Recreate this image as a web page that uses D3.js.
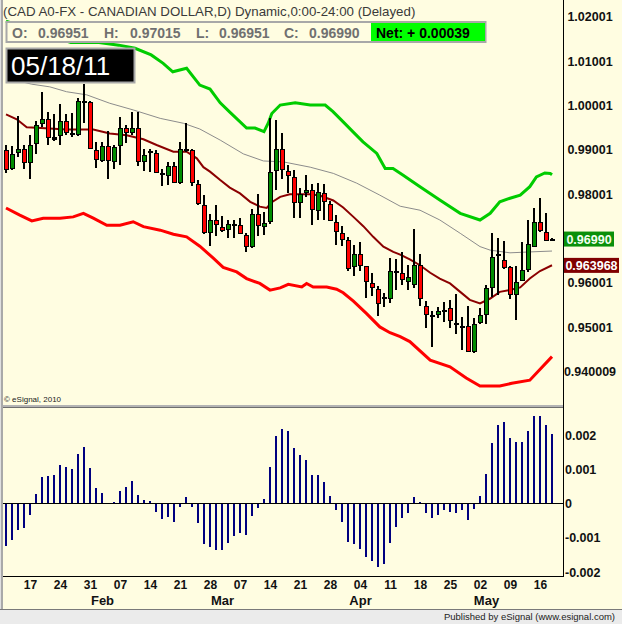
<!DOCTYPE html>
<html>
<head>
<meta charset="utf-8">
<script src="https://cdn.jsdelivr.net/npm/d3@7"></script>
<style>
  body { margin: 0; background: #fffde1; }
  svg { display: block; font-family: Arial, "Liberation Sans", sans-serif; }
</style>
</head>
<body>
<div id="chart"></div>
<script>
// daily bars, 11 Jan 2011 .. 18 May 2011 (weekdays)
var opens = [0.9900,0.9856,0.9892,0.9901,0.9870,0.9912,0.9958,0.9969,0.9930,0.9933,
  0.9966,0.9937,0.9933,1.0009,1.0007,0.9899,0.9874,0.9908,0.9872,0.9908,
  0.9949,0.9937,0.9949,0.9872,0.9892,0.9894,0.9847,0.9840,0.9863,0.9825,
  0.9901,0.9899,0.9822,0.9776,0.9713,0.9743,0.9727,0.9719,0.9732,0.9731,
  0.9708,0.9680,0.9755,0.9728,0.9736,0.9852,0.9901,0.9852,0.9838,0.9779,
  0.9802,0.9809,0.9764,0.9802,0.9779,0.9738,0.9713,0.9697,0.9635,0.9665,
  0.9638,0.9599,0.9587,0.9568,0.9563,0.9627,0.9623,0.9602,0.9595,0.9640,
  0.9548,0.9528,0.9528,0.9539,0.9543,0.9510,0.9504,0.9504,0.9443,0.9509,
  0.9528,0.9588,0.9661,0.9652,0.9635,0.9573,0.9605,0.9629,0.9682,0.9738,
  0.9715,0.96951];
var highs = [0.9911,0.9909,0.9976,0.9911,0.9933,0.9965,1.0030,0.9986,0.9980,1.0003,
  0.9980,0.9982,1.0016,1.0048,1.0009,0.9917,0.9917,0.9942,0.9912,0.9975,
  0.9955,0.9985,0.9985,0.9901,0.9901,0.9899,0.9858,0.9872,0.9872,0.9917,
  0.9960,0.9901,0.9831,0.9798,0.9755,0.9776,0.9751,0.9742,0.9742,0.9746,
  0.9713,0.9766,0.9800,0.9760,0.9971,0.9967,0.9937,0.9865,0.9854,0.9813,
  0.9843,0.9822,0.9825,0.9822,0.9784,0.9753,0.9728,0.9703,0.9685,0.9692,
  0.9639,0.9622,0.9593,0.9577,0.9656,0.9654,0.9670,0.9640,0.9721,0.9665,
  0.9560,0.9537,0.9546,0.9558,0.9562,0.9575,0.9523,0.9548,0.9520,0.9543,
  0.9595,0.9713,0.9702,0.9695,0.9638,0.9638,0.9693,0.9743,0.9768,0.9791,
  0.9757,0.97015];
var lows = [0.9848,0.9854,0.9884,0.9858,0.9835,0.9890,0.9952,0.9910,0.9919,0.9912,
  0.9933,0.9928,0.9932,0.9960,0.9901,0.9860,0.9872,0.9834,0.9858,0.9867,
  0.9915,0.9933,0.9863,0.9852,0.9849,0.9847,0.9818,0.9820,0.9825,0.9824,
  0.9895,0.9818,0.9775,0.9711,0.9684,0.9706,0.9715,0.9701,0.9701,0.9710,
  0.9669,0.9679,0.9706,0.9708,0.9733,0.9809,0.9834,0.9802,0.9746,0.9746,
  0.9793,0.9730,0.9743,0.9741,0.9741,0.9685,0.9684,0.9627,0.9616,0.9627,
  0.9567,0.9571,0.9526,0.9545,0.9555,0.9584,0.9595,0.9584,0.9588,0.9548,
  0.9498,0.9456,0.9520,0.9513,0.9498,0.9486,0.9449,0.9445,0.9442,0.9507,
  0.9507,0.9568,0.9573,0.9631,0.9565,0.9516,0.9604,0.9625,0.9681,0.9715,
  0.9695,0.96951];
var closes = [0.9856,0.9890,0.9901,0.9870,0.9910,0.9955,0.9969,0.9926,0.9924,0.9966,
  0.9940,0.9933,1.0009,1.0008,0.9901,0.9876,0.9908,0.9874,0.9906,0.9949,
  0.9937,0.9949,0.9872,0.9888,0.9897,0.9849,0.9843,0.9863,0.9825,0.9901,
  0.9900,0.9825,0.9777,0.9713,0.9743,0.9731,0.9719,0.9732,0.9731,0.9710,
  0.9680,0.9755,0.9728,0.9736,0.9849,0.9901,0.9854,0.9840,0.9779,0.9800,
  0.9809,0.9764,0.9806,0.9782,0.9741,0.9715,0.9698,0.9631,0.9665,0.9639,
  0.9601,0.9587,0.9554,0.9567,0.9627,0.9626,0.9608,0.9613,0.9640,0.9563,
  0.9528,0.9527,0.9537,0.9538,0.9513,0.9505,0.9503,0.9445,0.9507,0.9528,
  0.9588,0.9658,0.9665,0.9635,0.9573,0.9603,0.9629,0.9687,0.9738,0.9718,
  0.9695,0.96990];

// oscillator histogram (lower pane)
var oscValues = [-0.00124,-0.00106,-0.00077,-0.00071,-0.00033,0.00027,0.00077,0.00080,0.00083,0.00112,
  0.00106,0.00100,0.00144,0.00164,0.00103,0.00045,0.00030,0.00001,0.00004,0.00036,
  0.00048,0.00065,0.00024,0.00010,0.00007,-0.00024,-0.00045,-0.00039,-0.00054,-0.00010,
  0.00018,-0.00010,-0.00056,-0.00118,-0.00127,-0.00135,-0.00135,-0.00115,-0.00094,-0.00086,
  -0.00091,-0.00036,-0.00013,0.00013,0.00106,0.00197,0.00217,0.00211,0.00162,0.00141,
  0.00127,0.00083,0.00083,0.00062,0.00021,-0.00018,-0.00054,-0.00112,-0.00118,-0.00132,
  -0.00156,-0.00167,-0.00185,-0.00176,-0.00115,-0.00068,-0.00042,-0.00027,0.00018,0.00003,
  -0.00027,-0.00042,-0.00033,-0.00018,-0.00024,-0.00027,-0.00018,-0.00048,-0.00016,0.00021,
  0.00086,0.00177,0.00229,0.00237,0.00191,0.00179,0.00179,0.00211,0.00255,0.00255,
  0.00229,0.00202];

// study lines, [bar index, value]
var upperBand = [[0,1.0190],[10.8,1.0142],[15.5,1.0142],[18.8,1.0136],[21.5,1.0129],[24.2,1.0114],
  [26.2,1.0095],[27.8,1.0076],[30.1,1.0084],[32.3,1.0046],[34,1.0037],[35.7,1.0006],[37.3,0.9985],
  [40.1,0.9949],[41.5,0.9949],[43,0.9941],[43.7,0.9960],[44.3,0.9982],[45.7,1.0001],[48.2,1.0006],
  [50.7,1.0001],[53.2,1.0001],[54.5,0.9986],[56.2,0.9963],[57.8,0.9941],[59.5,0.9918],[61.8,0.9892],
  [63.2,0.9858],[64.5,0.9858],[66.2,0.9843],[69,0.9817],[72.3,0.9787],[75.7,0.9757],[79,0.9742],
  [80.7,0.9757],[82.3,0.9783],[84,0.9791],[85.7,0.9798],[87.3,0.9817],[88.4,0.9839],[89.8,0.9848],
  [90.7,0.9847],[91,0.9844]];
var midBand = [[0,0.9980],[1.8,0.9969],[3.45,0.9951],[5.1,0.9950],[10.1,0.9946],[14.55,0.9946],
  [17.3,0.9937],[20.1,0.9933],[22.9,0.9924],[25.1,0.9911],[27.9,0.9896],[30.1,0.9896],[31.8,0.9881],
  [32.9,0.9861],[34,0.9851],[35.7,0.9832],[37.3,0.9815],[39,0.9802],[40.7,0.9783],[42.3,0.9772],
  [43.45,0.9769],[44.3,0.9782],[45.7,0.9794],[47.3,0.9800],[50.7,0.9800],[52.3,0.9797],[54.55,0.9786],
  [56.2,0.9770],[57.9,0.9749],[59.55,0.9728],[61.2,0.9704],[62.9,0.9682],[64.55,0.9670],[65.7,0.9664],
  [67.3,0.9653],[69,0.9640],[70.7,0.9623],[72.3,0.9610],[74,0.9599],[75.7,0.9580],[77.3,0.9562],
  [79,0.9554],[80.7,0.9565],[82.3,0.9580],[84,0.9584],[85.7,0.9590],[87.3,0.9610],[89,0.9627],[91,0.9640]];
var grayLine = [[0,1.0062],[4.3,1.0048],[7.3,1.0042],[10.1,1.0031],[13.45,1.0024],[17.3,1.0005],
  [21.2,0.9990],[25.7,0.9971],[29.55,0.9960],[32.3,0.9947],[35.7,0.9922],[39.55,0.9891],[42.9,0.9875],
  [46.2,0.9873],[50.7,0.9861],[54.55,0.9847],[58.45,0.9825],[62.3,0.9798],[65.7,0.9773],[69,0.9764],
  [72.3,0.9742],[75.7,0.9712],[79,0.9682],[80.7,0.9674],[84,0.9668],[87.3,0.9670],[91,0.9672]];
var lowerBand = [[0,0.9769],[2.3,0.9753],[4.3,0.9740],[6.2,0.9746],[9,0.9746],[11.2,0.9749],
  [12.9,0.9757],[14.55,0.9746],[16.8,0.9730],[19,0.9730],[21.2,0.9738],[22.9,0.9727],[25.7,0.9719],
  [27.9,0.9710],[30.1,0.9704],[32.3,0.9683],[34.55,0.9656],[36.2,0.9635],[38.45,0.9625],[40.1,0.9610],
  [42.3,0.9599],[44,0.9584],[45.7,0.9589],[47.05,0.9597],[49.3,0.9591],[50.1,0.9599],[51.2,0.9591],
  [53.45,0.9591],[55.1,0.9586],[56.2,0.9578],[57.9,0.9559],[60.1,0.9531],[62.3,0.9501],[64,0.9488],
  [65.7,0.9479],[67.3,0.9468],[70.7,0.9426],[74,0.9411],[76.7,0.9386],[79,0.9368],[82.3,0.9368],
  [84.3,0.9374],[87.3,0.9381],[91,0.9434]];

var priceTicks = [1.02001, 1.01001, 1.00001, 0.99001, 0.98001, 0.96001, 0.95001, 0.940009];
var oscTicks = [0.002, 0.001, 0, -0.001, -0.002];
var lastClose = 0.96990, lastMid = 0.963968;

var W = 622, H = 624, axisX = 563;

var dates = d3.utcDay.range(new Date(Date.UTC(2011, 0, 11)), new Date(Date.UTC(2011, 4, 19)))
    .filter(d => d.getUTCDay() !== 0 && d.getUTCDay() !== 6);
var mondayIdx = dates.map((d, i) => i).filter(i => dates[i].getUTCDay() === 1);
var monthIdx = dates.map((d, i) => i)
    .filter(i => i > 0 && dates[i].getUTCMonth() !== dates[i - 1].getUTCMonth());

var x = d3.scaleLinear().domain([0, dates.length - 1]).range([6, 552]);
var y = d3.scaleLinear().domain([1.02001, 0.940009]).range([16.7, 371.7]);
var yOsc = d3.scaleLinear().domain([0.002, -0.002]).range([435, 572]);

var svg = d3.select("#chart").append("svg")
    .attr("width", W)
    .attr("height", H);

svg.append("rect").attr("width", W).attr("height", H).attr("fill", "#fffde1");

svg.append("clipPath").attr("id", "pricePane")
    .append("rect").attr("x", 3).attr("y", 0).attr("width", axisX - 3).attr("height", 404);

var pane = svg.append("g").attr("clip-path", "url(#pricePane)");

// study lines
var line = d3.line().x(d => x(d[0])).y(d => y(d[1]));
pane.append("path").datum(grayLine).attr("d", line)
    .attr("fill", "none").attr("stroke", "#8c8c8c").attr("stroke-width", 1);
pane.append("path").datum(midBand).attr("d", line)
    .attr("fill", "none").attr("stroke", "#8b0000").attr("stroke-width", 2);
pane.append("path").datum(upperBand).attr("d", line)
    .attr("fill", "none").attr("stroke", "#00cc00").attr("stroke-width", 3);
pane.append("path").datum(lowerBand).attr("d", line)
    .attr("fill", "none").attr("stroke", "#ff0000").attr("stroke-width", 3);

// candles
var candles = pane.append("g").attr("shape-rendering", "crispEdges")
    .selectAll("g")
    .data(dates.map((d, i) => i))
    .enter()
    .append("g");
candles.append("rect")
    .attr("x", i => x(i) - 1)
    .attr("y", i => y(highs[i]))
    .attr("width", 2)
    .attr("height", i => Math.max(1, y(lows[i]) - y(highs[i])))
    .attr("fill", "#000");
candles.append("rect")
    .attr("x", i => x(i) - 2)
    .attr("y", i => Math.round(y(Math.max(opens[i], closes[i]))))
    .attr("width", 5)
    .attr("height", i => Math.max(2, Math.round(Math.abs(y(opens[i]) - y(closes[i])))))
    .attr("fill", "#000");
candles.filter(i => Math.abs(y(opens[i]) - y(closes[i])) >= 3)
    .append("rect")
    .attr("x", i => x(i) - 1)
    .attr("y", i => Math.round(y(Math.max(opens[i], closes[i]))) + 1)
    .attr("width", 3)
    .attr("height", i => Math.round(Math.abs(y(opens[i]) - y(closes[i]))) - 2)
    .attr("fill", i => closes[i] > opens[i] ? "#008c00" : "#ff0000");

// oscillator pane
var osc = svg.append("g").attr("shape-rendering", "crispEdges");
osc.selectAll("rect")
    .data(oscValues)
    .enter()
    .append("rect")
    .attr("x", (d, i) => x(i) - 1)
    .attr("y", d => yOsc(Math.max(0, d)))
    .attr("width", 2)
    .attr("height", d => Math.abs(yOsc(d) - yOsc(0)))
    .attr("fill", "#000080");
osc.append("line").attr("x1", 3).attr("x2", axisX).attr("y1", yOsc(0)).attr("y2", yOsc(0))
    .attr("stroke", "#000");
osc.append("line").attr("x1", 3).attr("x2", axisX).attr("y1", 576.5).attr("y2", 576.5)
    .attr("stroke", "#000");

// pane separator
svg.append("rect").attr("x", 3).attr("y", 405).attr("width", axisX - 3).attr("height", 3)
    .attr("fill", "#b4b4b4");
svg.append("line").attr("x1", 3).attr("x2", axisX).attr("y1", 407.5).attr("y2", 407.5)
    .attr("stroke", "#6e6e6e");

svg.append("text").attr("x", 4).attr("y", 402)
    .attr("font-size", 8).attr("fill", "#222")
    .text("\u00a9 eSignal, 2010");

// right axes
svg.append("line").attr("x1", axisX + 0.5).attr("x2", axisX + 0.5).attr("y1", 0).attr("y2", 577)
    .attr("stroke", "#000");

var priceAxis = d3.axisRight(y).tickValues(priceTicks).tickFormat(d => String(d)).tickSize(0);
svg.append("g")
    .attr("transform", "translate(" + axisX + ",0)")
    .call(priceAxis)
    .call(g => g.select(".domain").remove())
    .call(g => g.selectAll("text")
        .attr("x", 27).attr("text-anchor", "middle")
        .attr("font-family", "Arial, 'Liberation Sans', sans-serif")
        .attr("font-size", 12.5).attr("font-weight", "bold").attr("fill", "#111"));

var oscAxis = d3.axisRight(yOsc).tickValues(oscTicks).tickFormat(d => String(d)).tickSize(0);
svg.append("g")
    .attr("transform", "translate(" + axisX + ",0)")
    .call(oscAxis)
    .call(g => g.select(".domain").remove())
    .call(g => g.selectAll("text")
        .attr("x", 2)
        .attr("font-family", "Arial, 'Liberation Sans', sans-serif")
        .attr("font-size", 12.5).attr("font-weight", "bold").attr("fill", "#111"));

// value markers on the price axis
var markers = [
    { v: lastClose, t: "0.96990", w: 50, bg: "#0a900a", fg: "#f4fff0" },
    { v: lastMid, t: "0.963968", w: 55, bg: "#800000", fg: "#ffffff" }
];
var mk = svg.selectAll("g.marker").data(markers).enter().append("g").attr("class", "marker");
mk.append("rect")
    .attr("x", axisX + 1).attr("y", d => y(d.v) - 7.5)
    .attr("width", d => d.w).attr("height", 15).attr("fill", d => d.bg);
mk.append("text")
    .attr("x", d => axisX + 1 + d.w / 2).attr("y", d => y(d.v) + 4.5)
    .attr("text-anchor", "middle")
    .attr("font-size", 12.5).attr("font-weight", "bold")
    .attr("fill", d => d.fg)
    .text(d => d.t);

// date axis
var dayFmt = d3.utcFormat("%d"), monFmt = d3.utcFormat("%b");
svg.append("g")
    .attr("transform", "translate(0,580)")
    .call(d3.axisBottom(x).tickValues(mondayIdx).tickFormat(i => dayFmt(dates[i])).tickSize(0).tickPadding(0))
    .call(g => g.select(".domain").remove())
    .call(g => g.selectAll("text")
        .attr("font-family", "Arial, 'Liberation Sans', sans-serif")
        .attr("font-size", 12).attr("font-weight", "bold").attr("fill", "#111"));
svg.append("g")
    .attr("transform", "translate(0,596)")
    .call(d3.axisBottom(x).tickValues(monthIdx).tickFormat(i => monFmt(dates[i])).tickSize(0).tickPadding(0))
    .call(g => g.select(".domain").remove())
    .call(g => g.selectAll("text")
        .attr("dx", 6)
        .attr("font-family", "Arial, 'Liberation Sans', sans-serif")
        .attr("font-size", 13).attr("font-weight", "bold").attr("fill", "#111"));

// footer
svg.append("rect").attr("x", 0).attr("y", 609).attr("width", W).attr("height", 15).attr("fill", "#ebebeb");
svg.append("line").attr("x1", 0).attr("x2", W).attr("y1", 609.5).attr("y2", 609.5).attr("stroke", "#7a7a7a");
svg.append("text").attr("x", 615).attr("y", 619.5)
    .attr("text-anchor", "end").attr("font-size", 9.5).attr("fill", "#222")
    .text("Published by eSignal (www.esignal.com)");

// left border
svg.append("rect").attr("x", 0).attr("y", 0).attr("width", 3).attr("height", 609).attr("fill", "#a9a9a9");
svg.append("rect").attr("x", 0).attr("y", 0).attr("width", 1).attr("height", 609).attr("fill", "#e0e0e0");

// header
svg.append("text").attr("x", 3).attr("y", 15.5)
    .attr("font-size", 13.3).attr("fill", "#3a3a3a")
    .text("(CAD A0-FX - CANADIAN DOLLAR,D) Dynamic,0:00-24:00 (Delayed)");

svg.append("rect").attr("x", 6.5).attr("y", 22).attr("width", 479).attr("height", 20)
    .attr("fill", "#fffde1").attr("stroke", "#a8a8a8").attr("stroke-width", 2);
svg.append("rect").attr("x", 371).attr("y", 23).attr("width", 114).attr("height", 18).attr("fill", "#00ff00");

var ohlc = [
    { x: 12, t: "O:" }, { x: 38, t: "0.96951" },
    { x: 104, t: "H:" }, { x: 130, t: "0.97015" },
    { x: 196, t: "L:" }, { x: 219, t: "0.96951" },
    { x: 284, t: "C:" }, { x: 309, t: "0.96990" }
];
svg.selectAll("text.ohlc").data(ohlc).enter().append("text").attr("class", "ohlc")
    .attr("x", d => d.x).attr("y", 37.5)
    .attr("font-size", 14).attr("font-weight", "bold").attr("fill", "#707070")
    .text(d => d.t);
svg.append("text").attr("x", 376).attr("y", 37.5)
    .attr("font-size", 14).attr("font-weight", "bold").attr("fill", "#000")
    .text("Net: + 0.00039");

svg.append("rect").attr("x", 6.5).attr("y", 48.5).attr("width", 128).attr("height", 34)
    .attr("fill", "#000").attr("stroke", "#a8a8a8").attr("stroke-width", 2);
svg.append("text").attr("x", 11).attr("y", 75)
    .attr("font-size", 26).attr("fill", "#fff")
    .text("05/18/11");
</script>
</body>
</html>
